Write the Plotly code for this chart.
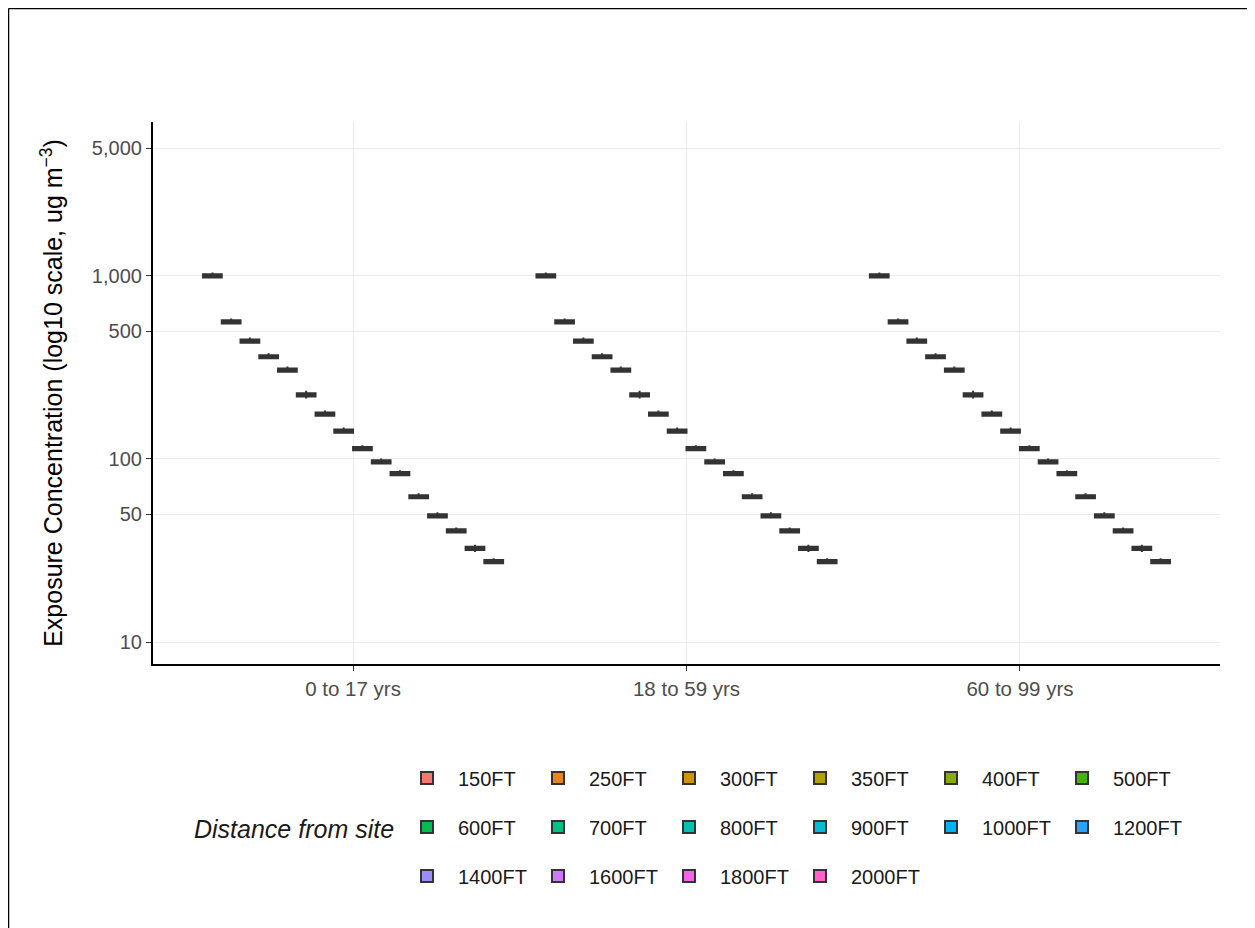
import plotly.graph_objects as go

# ---- data ----
age_groups = ["0 to 17 yrs", "18 to 59 yrs", "60 to 99 yrs"]
distances = ["150FT", "250FT", "300FT", "350FT", "400FT", "500FT", "600FT", "700FT",
             "800FT", "900FT", "1000FT", "1200FT", "1400FT", "1600FT", "1800FT", "2000FT"]
colors = ["#F8766D", "#E7851E", "#D09400", "#B2A100", "#89AC00", "#45B500", "#00BC51", "#00C087",
          "#00C0B2", "#00BCD6", "#00B3F2", "#29A3FF", "#9C8DFF", "#D277FF", "#F166E8", "#FF61C7"]
medians = [1000, 561, 441, 362, 306, 224, 176, 142, 114, 96.4, 83.2, 62.2, 48.9, 40.5, 32.5, 27.5]
q1s = [980, 550, 432, 355, 300, 219.5, 172.5, 139, 111.7, 94.5, 81.5, 61.0, 47.9, 39.7, 31.85, 26.95]
q3s = [1020, 572, 450, 369, 312, 228.5, 179.5, 145, 116.3, 98.3, 84.9, 63.4, 49.9, 41.3, 33.15, 28.05]
lows = [975, 547, 430, 353, 298, 214, 171.5, 138.5, 111, 94.0, 81.1, 60.6, 47.7, 39.5, 31.0, 26.8]
highs = [1045, 586, 461, 378, 320, 236, 184, 148.5, 119, 100.7, 86.9, 65.0, 51.1, 42.3, 34.0, 28.7]
y_tick_vals = [10, 50, 100, 500, 1000, 5000]
y_tick_text = ["10", "50", "100", "500", "1,000", "5,000"]

FONT = "Liberation Sans, Arial, sans-serif"

fig = go.Figure()
legend_rows = ["legend"] * 6 + ["legend2"] * 6 + ["legend3"] * 4
n = len(age_groups)
for i, d in enumerate(distances):
    fig.add_trace(go.Box(
        x=age_groups,
        q1=[q1s[i]] * n, median=[medians[i]] * n, q3=[q3s[i]] * n,
        lowerfence=[lows[i]] * n, upperfence=[highs[i]] * n,
        name=d, fillcolor=colors[i],
        line=dict(color="#333333", width=2),
        whiskerwidth=0, boxpoints=False,
        legend=legend_rows[i],
    ))

# page has an 8px body margin; figure placed at (8, 8)
OFF = 8
W, H = 1239, 920
L, R, T, B = 145, 27, 114, 264
pw, ph = W - L - R, H - T - B

def px_x(x):  # page pixel -> paper coordinate
    return (x - OFF - L) / pw

def px_y(y):
    return (H - B - (y - OFF)) / ph

legend_common = dict(orientation="h", xanchor="left", yanchor="middle",
                     font=dict(family=FONT, size=20, color="#1A1A1A"),
                     bgcolor="rgba(0,0,0,0)", entrywidth=64, itemwidth=52,
                     tracegroupgap=0)

fig.update_layout(
    width=W, height=H,
    margin=dict(l=L, r=R, t=T, b=B, autoexpand=False),
    paper_bgcolor="white", plot_bgcolor="white",
    boxmode="group", boxgap=0.1, boxgroupgap=0,
    font=dict(family=FONT, size=20, color="#4D4D4D"),
    xaxis=dict(type="category", categoryorder="array", categoryarray=age_groups,
               range=[-0.6, 2.6], showgrid=True, gridcolor="#EBEBEB", gridwidth=1.2,
               showline=True, linecolor="black", linewidth=2.2,
               ticks="outside", ticklen=5, tickwidth=1.2, tickcolor="#333333",
               tickfont=dict(family=FONT, size=20.5, color="#4D4D4D")),
    yaxis=dict(type="log", range=[0.880, 3.841],
               tickvals=y_tick_vals, ticktext=y_tick_text,
               showgrid=True, gridcolor="#EBEBEB", gridwidth=1.2,
               showline=True, linecolor="black", linewidth=2.2,
               ticks="outside", ticklen=5, tickwidth=1.2, tickcolor="#333333",
               tickfont=dict(family=FONT, size=20, color="#4D4D4D"),
               title=dict(text="Exposure Concentration (log10 scale, ug m<sup>\u22123</sup>)",
                          font=dict(family=FONT, size=25, color="black"), standoff=22)),
    legend=dict(x=px_x(396), y=px_y(778), **legend_common),
    legend2=dict(x=px_x(396), y=px_y(827), **legend_common),
    legend3=dict(x=px_x(396), y=px_y(876), **legend_common),
    annotations=[dict(text="<i>Distance from site</i>", xref="paper", yref="paper",
                      x=px_x(396), y=px_y(829), xanchor="right", yanchor="middle",
                      showarrow=False, font=dict(family=FONT, size=25, color="#1A1A1A"))],
    shapes=[
        dict(type="line", xref="paper", yref="paper", x0=px_x(8.5), x1=px_x(8.5),
             y0=px_y(928), y1=px_y(8.5), line=dict(color="black", width=1.5)),
        dict(type="line", xref="paper", yref="paper", x0=px_x(8.5), x1=px_x(1255),
             y0=px_y(8.5), y1=px_y(8.5), line=dict(color="black", width=1.5)),
    ],
    showlegend=True,
)

fig.write_html("out.html")
